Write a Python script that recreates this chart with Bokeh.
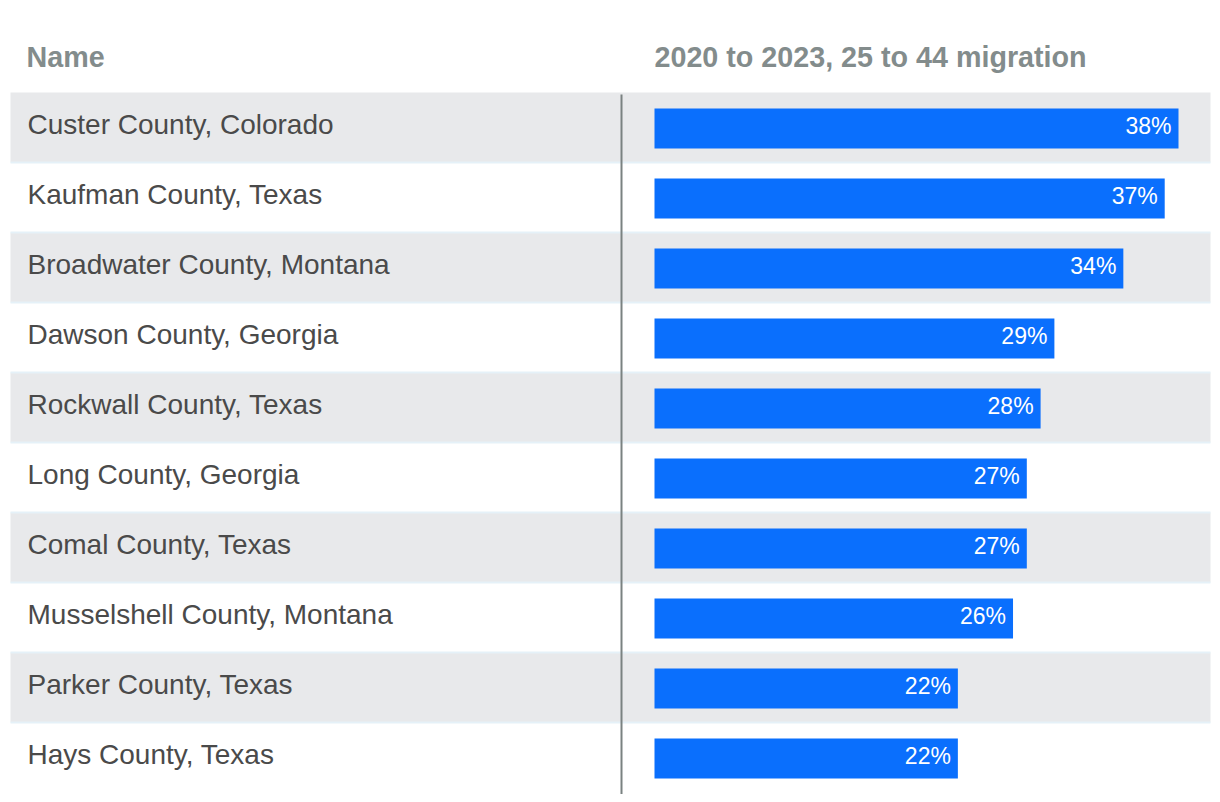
from bokeh.plotting import figure
from bokeh.models import Range1d, ColumnDataSource
from bokeh.core.properties import value
from bokeh.embed import file_html
from bokeh.resources import INLINE

# ---- data ----
names = [
    "Custer County, Colorado",
    "Kaufman County, Texas",
    "Broadwater County, Montana",
    "Dawson County, Georgia",
    "Rockwall County, Texas",
    "Long County, Georgia",
    "Comal County, Texas",
    "Musselshell County, Montana",
    "Parker County, Texas",
    "Hays County, Texas",
]
values = [38, 37, 34, 29, 28, 27, 27, 26, 22, 22]
labels = [f"{v}%" for v in values]
header_name = "Name"
header_value = "2020 to 2023, 25 to 44 migration"

# ---- layout (pixel geometry) ----
W, H = 1212, 794
OFF = 0
PX_PER_UNIT = 524 / 38.0   # horizontal scale (px per percent)
ROW_H = 70.0
X0_SCREEN = 654            # screen x of value 0
ROW0_CENTER = 127          # screen y of first row center
TXT_SHIFT = -8             # text renders lower than requested baseline


def dx(sx):
    return (sx - X0_SCREEN) / PX_PER_UNIT


def dy(sy):
    return (sy - ROW0_CENTER) / ROW_H


x_start = dx(OFF)
x_end = dx(OFF + W)
y_top = dy(OFF)
y_bottom = dy(OFF + H)

p = figure(
    width=W, height=H,
    x_range=Range1d(x_start, x_end),
    y_range=Range1d(start=y_bottom, end=y_top),
    output_backend="svg", toolbar_location=None,
    min_border=0, min_border_left=0, min_border_right=0,
    min_border_top=0, min_border_bottom=0,
)
p.xaxis.visible = False
p.yaxis.visible = False
p.grid.visible = False
p.outline_line_color = None
p.background_fill_color = "white"
p.border_fill_color = "white"

n = len(names)
idx = list(range(n))

# row backgrounds (alternating)
grey_rows = [i for i in idx if i % 2 == 0]
p.hbar(y=grey_rows, left=dx(10), right=dx(1210), height=1.0,
       fill_color="#e8e9eb", line_color=None)

# row separators
sep_y = [i + 0.5 for i in idx[:-1]]
p.segment(x0=[dx(10)] * len(sep_y), x1=[dx(1210)] * len(sep_y),
          y0=sep_y, y1=sep_y, line_color="#e5f1f8", line_width=2)

# vertical divider
p.segment(x0=[dx(621)], x1=[dx(621)], y0=[dy(94)], y1=[dy(800)],
          line_color="#7a8281", line_width=2)

# bars
src = ColumnDataSource(dict(
    y=[i + 1 / ROW_H for i in idx],
    name_y=[i + (4.5 + TXT_SHIFT) / ROW_H for i in idx],
    lab_y=[i + (6 + TXT_SHIFT) / ROW_H for i in idx],
    v=values,
    lab_x=[v - 7 / PX_PER_UNIT for v in values],
    name=names,
    label=labels,
))
p.hbar(y="y", left=0, right="v", height=40 / ROW_H, source=src,
       fill_color="#0a6ffd", line_color=None)

# value labels
p.text(x="lab_x", y="lab_y", text="label", source=src,
       text_color="white", text_font=value("Liberation Sans"),
       text_font_size="23px", text_align="right", text_baseline="alphabetic")

# name labels
p.text(x=dx(27), y="name_y", text="name", source=src,
       text_color="#4a4a4a", text_font=value("Liberation Sans"),
       text_font_size="28px", text_align="left", text_baseline="alphabetic")

# headers
hy = dy(64 + TXT_SHIFT)
p.text(x=[dx(26), 0], y=[hy, hy], text=[header_name, header_value],
       text_color="#838c8c", text_font=value("Liberation Sans"),
       text_font_size="28.7px", text_font_style="bold",
       text_align="left", text_baseline="alphabetic")

open("out.html", "w").write(file_html(p, INLINE))
